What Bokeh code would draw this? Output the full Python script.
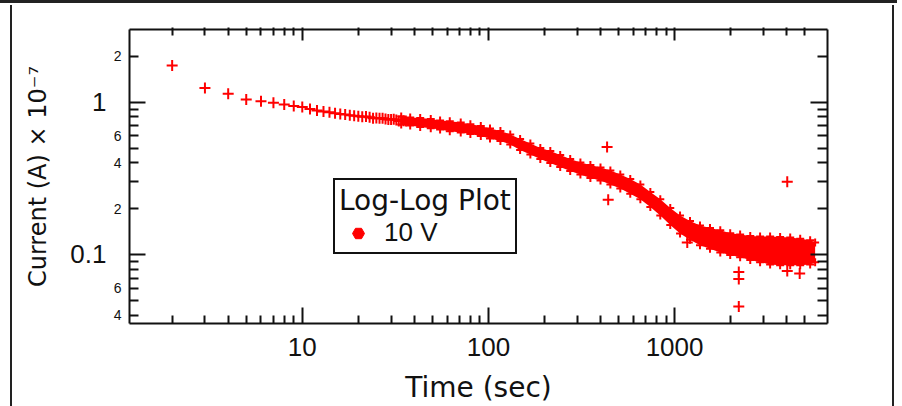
from bokeh.plotting import figure
from bokeh.models import (LogAxis, FixedTicker, Legend, LegendItem, Range1d,
                          CustomJSTickFormatter)
from bokeh.embed import file_html
from bokeh.resources import INLINE

# ---- data (time in s, current in units of 1e-7 A) ----
early_time = [2, 3, 4, 5, 6, 7, 8, 9, 10, 11, 12, 13, 14, 15, 16, 17, 18, 19,
              20, 21, 22, 23, 24, 25, 26, 27, 28, 29, 30, 31, 32, 33, 34, 35, 36]
early_current = [1.74, 1.24, 1.135, 1.04, 1.015, 0.99, 0.965, 0.945, 0.93,
                 0.903, 0.882, 0.868, 0.857, 0.847, 0.837, 0.829, 0.821, 0.814,
                 0.808, 0.803, 0.805, 0.795, 0.784, 0.786, 0.783, 0.785, 0.776,
                 0.768, 0.769, 0.772, 0.763, 0.752, 0.757, 0.755, 0.753]

band_time = [34, 38, 43, 49, 55, 62, 71, 80, 91, 102, 116, 131, 148, 168, 190,
             215, 243, 275, 312, 353, 400, 452, 511, 578, 655, 741, 838, 948,
             1070, 1210, 1370, 1550, 1760, 1990, 2250, 2550, 2880, 3260, 3690,
             4180, 4730, 5350, 5690]
band_high = [0.806, 0.794, 0.788, 0.774, 0.758, 0.750, 0.736, 0.717, 0.698,
             0.672, 0.647, 0.614, 0.573, 0.536, 0.500, 0.478, 0.450, 0.424,
             0.402, 0.387, 0.373, 0.356, 0.335, 0.313, 0.288, 0.257, 0.230,
             0.202, 0.180, 0.166, 0.155, 0.149, 0.144, 0.138, 0.135, 0.132,
             0.131, 0.131, 0.130, 0.129, 0.127, 0.124, 0.120]
band_low = [0.714, 0.703, 0.687, 0.675, 0.662, 0.645, 0.633, 0.617, 0.600,
            0.578, 0.556, 0.528, 0.486, 0.454, 0.424, 0.399, 0.375, 0.353,
            0.335, 0.318, 0.306, 0.288, 0.271, 0.250, 0.230, 0.205, 0.180,
            0.156, 0.137, 0.125, 0.115, 0.109, 0.103, 0.099, 0.096, 0.092,
            0.089, 0.086, 0.085, 0.085, 0.085, 0.086, 0.089]

outlier_time = [434, 440, 1170, 2213, 2213, 2213, 4030, 4030, 4700]
outlier_current = [0.507, 0.229, 0.12, 0.0766, 0.069, 0.0456, 0.30, 0.078, 0.075]

x_major = [10, 100, 1000]
x_minor = [2, 3, 4, 5, 6, 7, 8, 9, 20, 30, 40, 50, 60, 70, 80, 90,
           200, 300, 400, 500, 600, 700, 800, 900, 2000, 3000, 4000, 5000]
y_major = [0.1, 1]
y_minor = [0.04, 0.05, 0.06, 0.07, 0.08, 0.09, 0.2, 0.3, 0.4, 0.5, 0.6,
           0.7, 0.8, 0.9, 2]
y_minor_labelled = [0.04, 0.06, 0.2, 0.4, 0.6, 2]

RED = "#ff0000"
INK = "#111111"
TICK_FONT = "Liberation Sans"
TITLE_FONT = "DejaVu Sans"

frame_css = {
    "background-color": "white",
    "background-image": ("linear-gradient(#222,#222), linear-gradient(#222,#222), "
                         "linear-gradient(#222,#222)"),
    "background-size": "897px 3px, 2px 401px, 2px 401px",
    "background-position": "0px 0px, 10px 5px, 892px 5px",
    "background-repeat": "no-repeat",
}

p = figure(width=902, height=406, x_axis_type="log", y_axis_type="log",
           x_range=Range1d(1.18, 6630), y_range=Range1d(0.0352, 3.0),
           min_border_left=129, min_border_right=75, min_border_top=29,
           min_border_bottom=83, output_backend="svg", toolbar_location=None,
           background_fill_color="white", border_fill_color=None,
           styles=frame_css)
p.outline_line_color = None
p.grid.visible = False

xt = FixedTicker(ticks=x_major, minor_ticks=x_minor)
yt = FixedTicker(ticks=y_major, minor_ticks=y_minor)
plain = CustomJSTickFormatter(code="return tick.toString();")
digit = CustomJSTickFormatter(code="""
const e = Math.floor(Math.log10(tick) + 1e-9);
return String(Math.round(tick / Math.pow(10, e)));
""")
blank = CustomJSTickFormatter(code="return ' ';")

def style_lines(ax):
    ax.axis_line_color = INK
    ax.axis_line_width = 2
    ax.major_tick_line_color = INK
    ax.major_tick_line_width = 2
    ax.minor_tick_line_color = INK
    ax.minor_tick_line_width = 2

def hide_labels(ax):
    ax.formatter = blank
    ax.major_label_text_font_size = "1px"
    ax.major_label_text_color = None
    ax.major_label_standoff = 0

# bottom axis
xa = p.xaxis[0]
xa.ticker = xt
xa.formatter = plain
style_lines(xa)
xa.major_tick_in = 16
xa.major_tick_out = 0
xa.minor_tick_in = 8
xa.minor_tick_out = 0
xa.major_label_text_font = TICK_FONT
xa.major_label_text_font_size = "26px"
xa.major_label_text_color = INK
xa.major_label_standoff = 14
xa.axis_label = "Time (sec)"
xa.axis_label_text_font = TITLE_FONT
xa.axis_label_text_font_size = "28px"
xa.axis_label_text_font_style = "normal"
xa.axis_label_text_color = INK
xa.axis_label_standoff = 12

# left axis (ticks only)
ya = p.yaxis[0]
ya.ticker = yt
style_lines(ya)
ya.major_tick_in = 16
ya.major_tick_out = 0
ya.minor_tick_in = 9
ya.minor_tick_out = 0
hide_labels(ya)

# left: small labels at the labelled minor ticks
yb = LogAxis(ticker=FixedTicker(ticks=y_minor_labelled, minor_ticks=[]),
             formatter=digit)
yb.axis_line_color = None
yb.major_tick_line_color = None
yb.minor_tick_line_color = None
yb.major_tick_in = 0
yb.major_tick_out = 0
yb.major_label_text_font = TICK_FONT
yb.major_label_text_font_size = "14px"
yb.major_label_text_color = INK
yb.major_label_standoff = 8
p.add_layout(yb, "left")

# left: big labels at the decades + axis title
yc = LogAxis(ticker=FixedTicker(ticks=y_major, minor_ticks=[]), formatter=plain)
yc.axis_line_color = None
yc.major_tick_line_color = None
yc.minor_tick_line_color = None
yc.major_tick_in = 0
yc.major_tick_out = 0
yc.major_label_text_font = TICK_FONT
yc.major_label_text_font_size = "26px"
yc.major_label_text_color = INK
yc.major_label_standoff = 4
yc.axis_label = "Current (A) \u00d7 10\u207b\u2077"
yc.axis_label_text_font = TITLE_FONT
yc.axis_label_text_font_size = "24px"
yc.axis_label_text_font_style = "normal"
yc.axis_label_text_color = INK
yc.axis_label_standoff = 15
p.add_layout(yc, "left")

# top and right mirror axes
top = LogAxis(ticker=xt)
style_lines(top)
top.major_tick_in = 11
top.major_tick_out = 2
top.minor_tick_in = 6
top.minor_tick_out = 2
hide_labels(top)
p.add_layout(top, "above")

right = LogAxis(ticker=yt)
style_lines(right)
right.major_tick_in = 17
right.major_tick_out = 0
right.minor_tick_in = 10
right.minor_tick_out = 0
hide_labels(right)
p.add_layout(right, "right")

# ---- data marks ----
band = p.varea(x=band_time, y1=band_low, y2=band_high, fill_color=RED)
p.scatter(band_time, band_high, marker="cross", size=8, line_width=2, color=RED)
p.scatter(band_time, band_low, marker="cross", size=8, line_width=2, color=RED)
p.scatter(early_time, early_current, marker="cross", size=11, line_width=2,
          color=RED)
p.scatter(outlier_time, outlier_current, marker="cross", size=11, line_width=2,
          color=RED)
key = p.scatter(early_time, early_current, marker="hex", size=18, color=RED,
                visible=False)

legend = Legend(items=[LegendItem(label="10 V", renderers=[key])],
                title="Log-Log Plot", location=(204, 69))
legend.title_text_font = TITLE_FONT
legend.title_text_font_size = "28px"
legend.title_text_font_style = "normal"
legend.title_text_color = INK
legend.title_standoff = 0
legend.label_text_font = TICK_FONT
legend.label_text_font_size = "26px"
legend.label_text_color = INK
legend.padding = 4
legend.spacing = 0
legend.margin = 0
legend.glyph_width = 38
legend.glyph_height = 30
legend.label_standoff = 7
legend.border_line_color = INK
legend.border_line_alpha = 1.0
legend.border_line_width = 2
legend.background_fill_color = "white"
legend.background_fill_alpha = 1.0
p.add_layout(legend)

open("out.html", "w").write(file_html(p, INLINE))
